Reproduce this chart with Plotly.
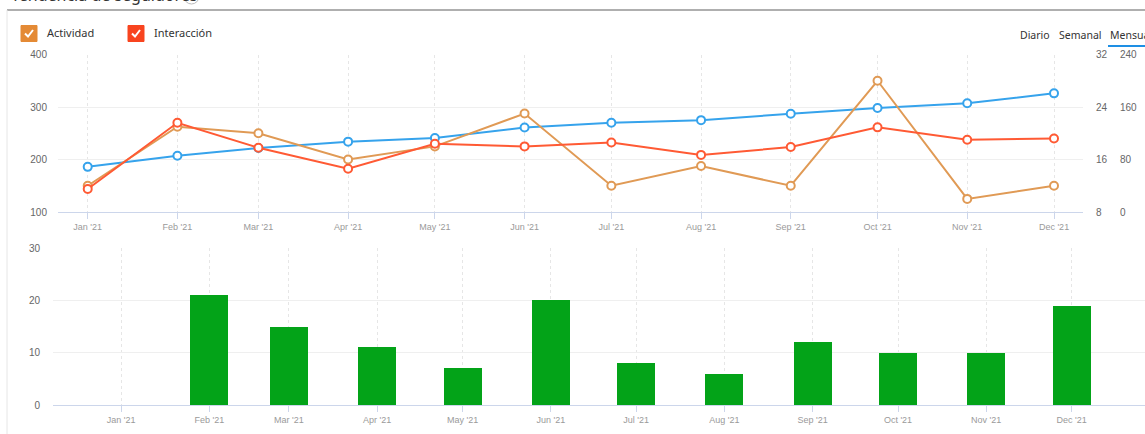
import plotly.graph_objects as go

W, H = 1145, 434

months = ["2021-01-01", "2021-02-01", "2021-03-01", "2021-04-01", "2021-05-01", "2021-06-01",
          "2021-07-01", "2021-08-01", "2021-09-01", "2021-10-01", "2021-11-01", "2021-12-01"]
seguidores = [186, 207, 222, 234, 241, 261, 270, 275, 287, 298, 307, 326]
actividad = [12, 21, 20, 16, 18, 23, 12, 15, 12, 28, 10, 12]
interaccion = [35, 136, 98, 66, 104, 100, 106, 87, 99, 129, 110, 112]
nuevos = [0, 21, 15, 11, 7, 20, 8, 6, 12, 10, 10, 19]

legend_labels = ["Actividad", "Interacción"]
tab_labels = ["Diario", "Semanal", "Mensual"]
title_text = "Tendencia de seguidores"

BLUE = "#36A3EC"
ORANGE = "#E09A55"
RED = "#FF5A34"
GREEN = "#03A318"
GRID = "#EFEFEF"
AXIS = "#CCD6EB"


def px(x):
    return x / W


def py(y):
    return 1 - y / H


fig = go.Figure()

mk = dict(size=8, symbol="circle", color="white", line=dict(width=2))
fig.add_trace(go.Scatter(x=months, y=seguidores, mode="lines+markers", xaxis="x", yaxis="y",
                         line=dict(color=BLUE, width=2), marker=dict(mk, line=dict(color=BLUE, width=2))))
fig.add_trace(go.Scatter(x=months, y=actividad, mode="lines+markers", xaxis="x", yaxis="y2",
                         line=dict(color=ORANGE, width=2), marker=dict(mk, line=dict(color=ORANGE, width=2))))
fig.add_trace(go.Scatter(x=months, y=interaccion, mode="lines+markers", xaxis="x", yaxis="y3",
                         line=dict(color=RED, width=2), marker=dict(mk, line=dict(color=RED, width=2))))
fig.add_trace(go.Bar(x=months, y=nuevos, xaxis="x2", yaxis="y4", marker=dict(color=GREEN, line=dict(width=0)),
                     width=13.35 * 86400000))

tickfont_x = dict(family="Liberation Sans, Arial, sans-serif", size=9, color="#9A9A9A")
tickfont_y = dict(family="Liberation Sans, Arial, sans-serif", size=10, color="#666666")

top_dom = [py(212), py(54.5)]
bot_dom = [py(405), py(248)]

fig.update_layout(
    width=W, height=H, margin=dict(l=0, r=0, t=0, b=0, pad=0, autoexpand=False),
    paper_bgcolor="white", plot_bgcolor="white", showlegend=False, bargap=0,
    xaxis=dict(domain=[px(58), px(1083)], anchor="y", type="date", automargin=False,
               range=["2020-12-21 17:30", "2021-12-11 00:30"],
               tickvals=months, tickformat="%b '%y", tickfont=tickfont_x,
               showgrid=True, gridcolor="#E6E6E6", griddash="3px,3px", gridwidth=1,
               showline=True, linecolor=AXIS, linewidth=1,
               ticks="outside", ticklen=6, tickcolor=AXIS, zeroline=False),
    yaxis=dict(domain=top_dom, anchor="x", range=[100, 400], dtick=100, tickfont=tickfont_y,
               automargin=False,
               showgrid=True, gridcolor=GRID, zeroline=False, ticks="", ticklabelstandoff=10),
    yaxis2=dict(domain=top_dom, overlaying="y", anchor="free", position=px(1083), side="right",
                automargin=False,
                range=[8, 32], dtick=8, tickfont=tickfont_y, showgrid=False, zeroline=False,
                ticks="", ticklabelstandoff=12),
    yaxis3=dict(domain=top_dom, overlaying="y", anchor="free", position=px(1083), side="right",
                automargin=False,
                range=[0, 240], dtick=80, tickfont=tickfont_y, showgrid=False, zeroline=False,
                ticks="", ticklabelstandoff=36),
    xaxis2=dict(domain=[px(53), 1.0], anchor="y4", type="date", automargin=False,
                range=["2020-12-08 02:00", "2021-12-26 19:00"],
                tickvals=months, tickformat="%b '%y", tickfont=tickfont_x,
                showgrid=True, gridcolor="#E6E6E6", griddash="3px,3px", gridwidth=1,
                showline=True, linecolor=AXIS, linewidth=1,
                ticks="outside", ticklen=6, tickcolor=AXIS, zeroline=False),
    yaxis4=dict(domain=bot_dom, anchor="x2", range=[0, 30], dtick=10, tickfont=tickfont_y,
                automargin=False,
                showgrid=True, gridcolor=GRID, zeroline=False, ticks="", ticklabelstandoff=12),
)

shapes = []
# card borders
shapes.append(dict(type="line", xref="paper", yref="paper", x0=px(7), x1=1, y0=py(10), y1=py(10),
                   line=dict(color="#AFAFAF", width=2)))
shapes.append(dict(type="line", xref="paper", yref="paper", x0=px(7), x1=px(7), y0=py(10), y1=0,
                   line=dict(color="#E6E6E6", width=1)))
# legend checkboxes
for x0, col in [(21, "#E48A35"), (128, "#F8441F")]:
    shapes.append(dict(type="rect", xref="paper", yref="paper", x0=px(x0), x1=px(x0 + 16),
                       y0=py(41.5), y1=py(25.5), fillcolor=col, line=dict(color=col, width=1)))
    path = f"M {px(x0 + 4)} {py(33.5)} L {px(x0 + 7)} {py(36.5)} L {px(x0 + 12)} {py(30)}"
    shapes.append(dict(type="path", xref="paper", yref="paper", path=path,
                       line=dict(color="white", width=2)))
# tab underline
shapes.append(dict(type="line", xref="paper", yref="paper", x0=px(1108), x1=1, y0=py(46), y1=py(46),
                   line=dict(color="#1E8FE4", width=2)))
# title help icon
shapes.append(dict(type="circle", xref="paper", yref="paper", x0=px(184), x1=px(199), y0=py(4), y1=py(-11),
                   line=dict(color="#BBBBBB", width=1)))
fig.update_layout(shapes=shapes)

ann = []
lf = dict(family="Noto Sans, Open Sans, sans-serif", size=11, color="#333333")
ann.append(dict(text=legend_labels[0], xref="paper", yref="paper", x=px(45), y=py(32.5),
                xanchor="left", yanchor="middle", showarrow=False, font=lf))
ann.append(dict(text=legend_labels[1], xref="paper", yref="paper", x=px(152), y=py(32.5),
                xanchor="left", yanchor="middle", showarrow=False, font=lf))
for lab, xl in zip(tab_labels, [1018, 1057, 1108]):
    ann.append(dict(text=lab, xref="paper", yref="paper", x=px(xl), y=py(35),
                    xanchor="left", yanchor="middle", showarrow=False,
                    font=dict(family="Noto Sans, Open Sans, sans-serif", size=10.5, color="#333333")))
ann.append(dict(text=title_text, xref="paper", yref="paper", x=px(9), y=py(-5),
                xanchor="left", yanchor="middle", showarrow=False,
                font=dict(family="Noto Sans, Open Sans, sans-serif", size=16, color="#333333")))
fig.update_layout(annotations=ann)

fig.write_html("out.html", config={"displayModeBar": False},
               post_script="document.body.style.margin='0';document.body.style.overflow='hidden';")
